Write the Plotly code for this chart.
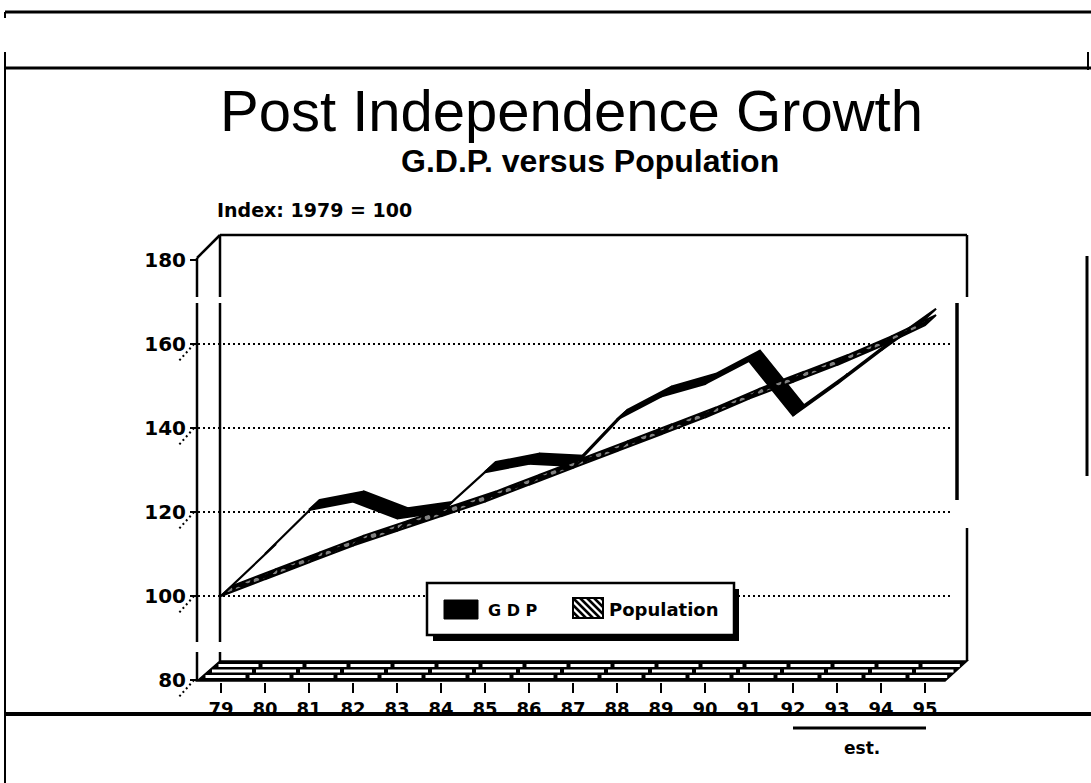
import plotly.graph_objects as go

W, H = 1091, 783

# ---- data -------------------------------------------------------------
years = list(range(1979, 1996))
year_labels = ["79", "80", "81", "82", "83", "84", "85", "86", "87",
               "88", "89", "90", "91", "92", "93", "94", "95"]
gdp = [100, 110, 120.5, 122.5, 118.5, 120, 129.5, 131.5, 131,
       142, 147.5, 150.5, 156, 143, 150.5, 158.5, 166]
population = [100, 104, 108, 112, 115.5, 119, 122.5, 126.5, 130.5,
              134.5, 138.5, 142.5, 147, 151, 155, 159.5, 164.5]
y_ticks = [80, 100, 120, 140, 160, 180]
grid_values = [100, 120, 140, 160]

# ---- drawing geometry (pixels) -----------------------------------------
X_FIRST = 221.0        # pixel of the first year on the floor
PX_PER_YEAR = 44.0
Y_100 = 596.0          # pixel of index value 100
PX_PER_UNIT = 4.2
DEPTH = (11.0, -10.0)  # ribbon depth, pixels

x_range = [years[0] - X_FIRST / PX_PER_YEAR, years[0] + (W - X_FIRST) / PX_PER_YEAR]
y_range = [100 - (H - Y_100) / PX_PER_UNIT, 100 + Y_100 / PX_PER_UNIT]


def fx(x):
    return x / W


def fy(y):
    return 1 - y / H


ddx = DEPTH[0] / PX_PER_YEAR
ddy = -DEPTH[1] / PX_PER_UNIT


def ribbon(xs, vs):
    rx, ry = [], []
    for i in range(len(xs) - 1):
        x0, x1, v0, v1 = xs[i], xs[i + 1], vs[i], vs[i + 1]
        rx += [x0, x1, x1 + ddx, x0 + ddx, x0, None]
        ry += [v0, v1, v1 + ddy, v0 + ddy, v0, None]
    return rx, ry


fig = go.Figure()

gx, gy = ribbon(years, gdp)
fig.add_trace(go.Scatter(x=gx, y=gy, mode="lines", fill="toself",
                         fillcolor="black", line=dict(color="black", width=2.2),
                         name="G D P", showlegend=False, hoverinfo="skip"))
px_, py_ = ribbon(years, population)
fig.add_trace(go.Scatter(x=px_, y=py_, mode="lines", fill="toself",
                         fillpattern=dict(shape=".", bgcolor="black", fgcolor="white",
                                          size=9, solidity=0.3),
                         line=dict(color="black", width=2),
                         name="Population", showlegend=False, hoverinfo="skip"))

shapes = []


def pline(x0, y0, x1, y1, w=2, dash=None, color="black", layer="above"):
    d = dict(type="line", xref="paper", yref="paper",
             x0=fx(x0), y0=fy(y0), x1=fx(x1), y1=fy(y1),
             line=dict(color=color, width=w), layer=layer)
    if dash:
        d["line"]["dash"] = dash
    shapes.append(d)


def prect(x0, y0, x1, y1, fill=None, lw=0, layer="above"):
    shapes.append(dict(type="rect", xref="paper", yref="paper",
                       x0=fx(x0), y0=fy(y0), x1=fx(x1), y1=fy(y1),
                       fillcolor=fill if fill else "rgba(0,0,0,0)",
                       line=dict(color="black", width=lw), layer=layer))


# page frame
pline(5, 12, 1091, 12, w=3)
pline(5, 12, 5, 18, w=2)
pline(5, 68, 1091, 68, w=3)
pline(5, 52, 5, 783, w=2)
pline(1088, 52, 1088, 70, w=2)
pline(1087, 256, 1087, 476, w=3)

# dotted grid on the back wall
for v in grid_values:
    shapes.append(dict(type="line", xref="paper", yref="y",
                       x0=fx(198), x1=fx(952), y0=v, y1=v,
                       line=dict(color="black", width=2, dash="2px,3px"), layer="below"))
# small perspective dots below each value label
for v in [80, 100, 120, 140, 160]:
    shapes.append(dict(type="line", xref="paper", yref="y",
                       x0=fx(194), x1=fx(178), y0=v, y1=v - 18 / PX_PER_UNIT,
                       line=dict(color="black", width=2, dash="2px,3px"), layer="below"))

# front axis and back wall edges
pline(197, 258, 197, 297, w=2.5)
pline(197, 303, 197, 642, w=2.5)
pline(197, 652, 197, 681, w=2.5)
pline(197, 258, 220, 235, w=2.5)
pline(220, 235, 220, 297, w=2.5)
pline(220, 303, 220, 642, w=2.5)
pline(220, 652, 220, 661, w=2.5)
pline(220, 235, 967, 235, w=2.5)
pline(967, 235, 967, 297, w=2.5)
pline(957, 303, 957, 500, w=3.5)
pline(967, 528, 967, 661, w=2.5)

# floor
floor_path = "M {} {} L {} {} L {} {} L {} {} Z".format(
    fx(197), fy(681), fx(220), fy(661), fx(967), fy(661), fx(945), fy(681))
shapes.append(dict(type="path", xref="paper", yref="paper", path=floor_path,
                   fillcolor="black", line=dict(color="black", width=1.5), layer="above"))
slant = 23.0 / 20.0
for row_y, first_break in [(676.5, 245.5), (671.0, 252.0), (665.5, 258.5)]:
    left = 197 + (681 - row_y) * slant + 2
    right = 945 + (681 - row_y) * slant - 3
    start = first_break - 40
    while start - 44 > left:
        start -= 44
    pline(max(start, left), row_y, right, row_y, w=3, dash="40px,4px", color="white")

# legend box with drop shadow
prect(433, 589, 739, 641, fill="black", layer="below")
prect(427, 583, 734, 635, fill="white", lw=2.5, layer="below")
prect(444, 600, 478, 619, fill="black", lw=1)
prect(573, 598, 603, 618, fill="white", lw=2)
# diagonal stripes of the population swatch
bx0, by0, bx1, by1 = 573, 598, 603, 618
for c in range(-14, 32, 7):
    xa, ya = bx0 + c, by0
    xb, yb = xa + (by1 - by0), by1
    if xa < bx0:
        ya += bx0 - xa
        xa = bx0
    if xb > bx1:
        yb -= xb - bx1
        xb = bx1
    if xb > xa:
        pline(xa, ya, xb, yb, w=2.5)

# lower page rule that cuts through the year labels
prect(200, 716, 960, 728, fill="white", layer="above")
pline(5, 714, 1091, 714, w=4)
pline(793, 728, 926, 728, w=3)

TITLE_FONT = "Liberation Sans, Arial, Helvetica, sans-serif"
HEAVY_FONT = "DejaVu Sans, Liberation Sans, sans-serif"
ann = []


def text(s, x, y, size, family=HEAVY_FONT, bold=True, xanchor="center"):
    ann.append(dict(text=s, xref="paper", yref="paper", x=fx(x), y=fy(y),
                    xanchor=xanchor, yanchor="middle", showarrow=False,
                    font=dict(family=family, size=size, color="black",
                              weight="bold" if bold else "normal")))


text("Post Independence Growth", 571, 110, 58, family=TITLE_FONT, bold=False)
text("G.D.P. versus Population", 590, 161, 32, family=TITLE_FONT)
text("Index: 1979 = 100", 215, 210, 19, xanchor="left")
text("G D P", 486, 610, 16, xanchor="left")
text("Population", 607, 609, 18, xanchor="left")
text("est.", 862, 748, 17)

fig.update_layout(
    width=W, height=H,
    margin=dict(l=0, r=0, t=0, b=0),
    paper_bgcolor="white", plot_bgcolor="white",
    showlegend=False,
    shapes=shapes, annotations=ann,
    xaxis=dict(range=x_range, domain=[0, 1], anchor="free", position=fy(682),
               tickvals=years, ticktext=year_labels, ticks="outside",
               ticklen=10, tickwidth=2, tickcolor="black",
               showline=False, showgrid=False, zeroline=False,
               tickfont=dict(family=HEAVY_FONT, size=18, color="black", weight="bold"),
               fixedrange=True),
    yaxis=dict(range=y_range, domain=[0, 1], anchor="free", position=fx(197),
               tickvals=y_ticks, ticks="outside", ticklen=7, tickwidth=2,
               tickcolor="black", showline=False, showgrid=False, zeroline=False,
               tickfont=dict(family=HEAVY_FONT, size=20, color="black", weight="bold"),
               fixedrange=True),
)

fig.write_html("out.html")
